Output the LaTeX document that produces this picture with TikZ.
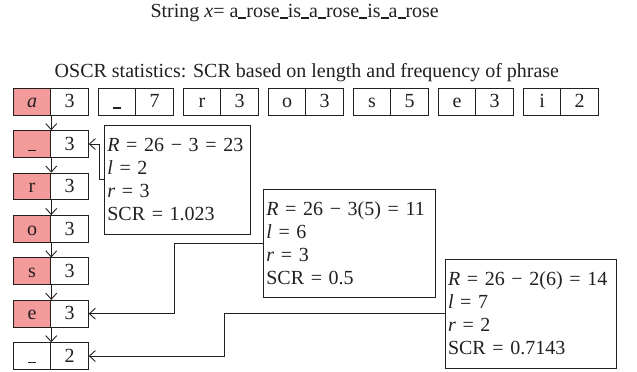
\documentclass[tikz,border=0pt]{standalone}
\usepackage{fontspec}
\setmainfont{Liberation Serif}
\usetikzlibrary{arrows.meta,calc}
\definecolor{ink}{RGB}{35,31,32}
\definecolor{rosefill}{RGB}{243,154,155}
% low bar used for the blank symbol
\newcommand\usc{\rule[-1pt]{8pt}{1.5pt}}
\newcommand\bigfont{\fontsize{20}{22.5}\selectfont}
\newcommand\statfont{\fontsize{20}{23}\selectfont}
\begin{document}
\begin{tikzpicture}[x=1pt,y=-1pt,line width=0.9pt,color=ink,
  cell/.style={draw,minimum width=37.5pt,minimum height=26.7pt,inner sep=0pt,
    text height=15pt,text depth=2.5pt,font=\bigfont},
  hl/.style={cell,fill=rosefill},
  stat/.style={draw,inner xsep=3pt,inner ysep=0pt,align=left,font=\statfont},
  arr/.style={-{Straight Barb[length=6pt,width=11pt]}}]
\useasboundingbox (0,0) rectangle (637,372);

% headings
\node[anchor=base,font=\bigfont] (title) at (294.7,17.5)
  {String \textit{x}= a\usc rose\usc is\usc a\usc rose\usc is\usc a\usc rose};
\node[anchor=base,font=\bigfont] (subtitle) at (306.9,77.3)
  {OSCR statistics: SCR based on length and frequency of phrase};

% symbol/count pairs along the top
\foreach \i/\ch/\n/\st in {0/{\textit{a}}/3/hl,1/\usc/7/cell,2/r/3/cell,
    3/o/3/cell,4/s/5/cell,5/e/3/cell,6/i/2/cell}{
  \node[\st] (tl\i) at (32.05+85*\i,101.65) {\ch};
  \node[cell] (tr\i) at (69.55+85*\i,101.65) {\n};
}

% phrase chain down the left side
\foreach \k/\ch/\n/\st in {1/\usc/3/hl,2/r/3/hl,3/o/3/hl,4/s/3/hl,5/e/3/hl,6/\usc/2/cell}{
  \node[\st] (cl\k) at (32.05,101.65+42.4*\k) {\ch};
  \node[cell] (cr\k) at (69.55,101.65+42.4*\k) {\n};
}

\draw[arr] (tl0.south east) -- (cl1.north east);
\foreach \a/\b in {1/2,2/3,3/4,4/5,5/6}{
  \draw[arr] (cl\a.south east) -- (cl\b.north east);
}

% SCR computations
\node[stat,minimum width=146.4pt,minimum height=108.3pt,text width=140.4pt]
  (b1) at (177.5,179.85)
  {\textit{R} = 26 − 3 = 23\\\textit{l} = 2\\\textit{r} = 3\\SCR = 1.023};
\node[stat,minimum width=171.7pt,minimum height=108pt,text width=165.7pt]
  (b2) at (349.15,243.3)
  {\textit{R} = 26 − 3(5) = 11\\\textit{l} = 6\\\textit{r} = 3\\SCR = 0.5};
\node[stat,minimum width=171.7pt,minimum height=109.3pt,text width=165.7pt]
  (b3) at (530.85,313.65)
  {\textit{R} = 26 − 2(6) = 14\\\textit{l} = 7\\\textit{r} = 2\\SCR = 0.7143};

\draw[arr] (b1.west) -- ++(-4.3,0) |- (cr1.east);
\draw[arr] (b2.west) -- ++(-88.3,0) |- (cr5.east);
\draw[arr] (b3.west) -- ++(-219.7,0) |- (cr6.east);
\end{tikzpicture}
\end{document}
